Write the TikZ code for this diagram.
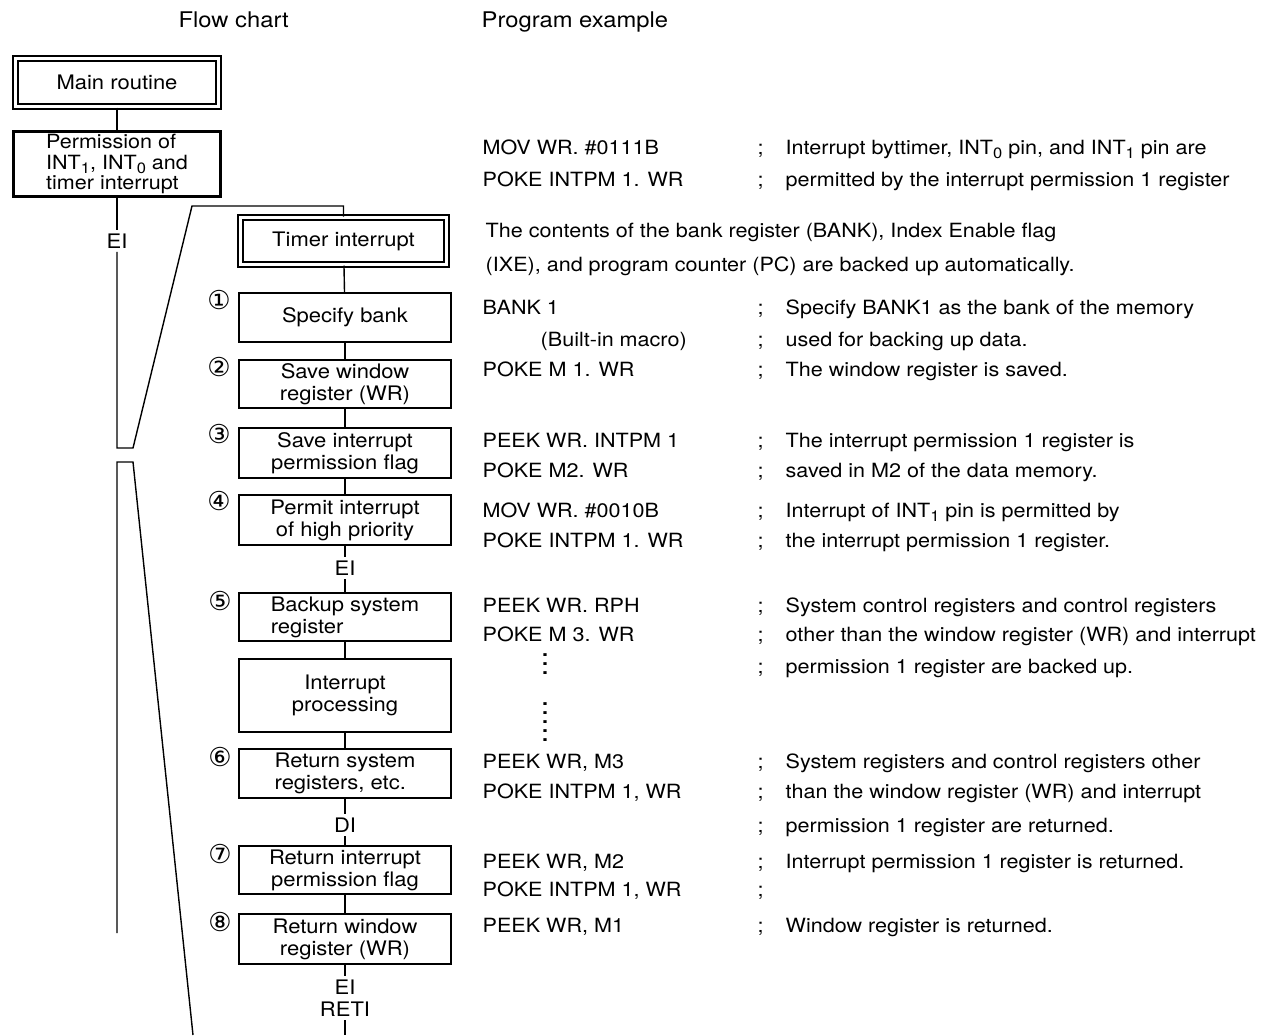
\documentclass[tikz,border=0pt]{standalone}
\usepackage{fontspec}
\setmainfont{TeX Gyre Heros}[FakeStretch=1.1]
\newfontfamily\circfont{DejaVu Sans}
\usetikzlibrary{positioning, calc}
\newcommand\subx[1]{\raisebox{-0.45ex}{\fontsize{7.5}{8}\selectfont #1}}
\newcommand\semi{;\hspace{11pt}}

\begin{document}
\begin{tikzpicture}[
    x=0.5pt, y=-0.5pt,
    line width=0.7pt,
    box/.style={draw, line width=1pt, minimum width=106pt, minimum height=24.5pt,
        inner sep=0pt, align=center, font=\fontsize{10}{11}\selectfont},
    dbox/.style={box, double, line width=1.1pt, double distance=1.4pt},
    flag/.style={inner sep=1.5pt, font=\fontsize{10}{11}\selectfont},
    num/.style={inner sep=0pt, font=\circfont\fontsize{13}{14}\selectfont},
    code/.style={anchor=base west, inner sep=0pt, font=\fontsize{9.8}{11}\selectfont},
    dots/.style={inner sep=0pt, align=center, font=\bfseries\fontsize{9.8}{4.6}\selectfont},
    title/.style={anchor=base west, inner sep=0pt, font=\fontsize{10.8}{12}\selectfont}
]
    \useasboundingbox (0,0) rectangle (1268,1035);

    % Headings
    \node[title] (hflow) at (178,27) {Flow chart};
    \node[title] (hprog) at (481,27) {Program example};

    % Main routine
    \node[dbox, minimum width=101.4pt, minimum height=23.9pt] (main) at (117,82.5) {Main routine};
    \node[box, line width=1.5pt, minimum width=103.5pt, minimum height=32.5pt, align=left,
        font=\fontsize{9.8}{10.2}\selectfont] (perm) at (117,164)
        {Permission of\\INT\subx{1}, INT\subx{0} and\\timer interrupt};
    \node[flag] (ei0) at (117,241) {EI};

    % Break of the main line
    \coordinate (brkA) at (117,448);
    \coordinate (brkB) at (133,448);
    \coordinate (brkC) at (192,206);
    \coordinate (brkD) at (117,462);
    \coordinate (brkE) at (133,462);
    \coordinate (brkF) at (193,1035);
    \coordinate (brkG) at (117,933);

    % Timer interrupt routine
    \node[dbox, minimum width=102.9pt, minimum height=23.4pt] (timer) at (343.5,241) {Timer interrupt};
    \node[box] (bank) at (345,317.5) {Specify bank};
    \node[box, minimum height=24pt] (savewr) at (345,384) {Save window\\register (WR)};
    \node[box, minimum height=25pt] (saveflag) at (345,453) {Save interrupt\\permission flag};
    \node[box, minimum height=25pt] (permit) at (345,520) {Permit interrupt\\of high priority};
    \node[flag] (ei1) at (345,568) {EI};
    \node[box, minimum height=24pt, align=left] (backup) at (345,617) {Backup system\\register};
    \node[box, minimum height=36.5pt] (process) at (345,695.5) {Interrupt\\processing};
    \node[box, align=left] (retsys) at (345,773.5) {Return system\\registers, etc.};
    \node[flag] (di) at (345,825) {DI};
    \node[box, minimum height=24pt] (retflag) at (345,870) {Return interrupt\\permission flag};
    \node[box, minimum height=25pt] (retwr) at (345,939) {Return window\\register (WR)};
    \node[flag] (ei2) at (345,987) {EI};
    \node[flag] (reti) at (345,1009) {RETI};
    \coordinate (endR) at (345,1035);

    % Step numbers
    \node[num] (s1) at ([xshift=-9.5pt,yshift=-4pt]bank.north west) {①};
    \node[num] (s2) at ([xshift=-9.5pt,yshift=-4pt]savewr.north west) {②};
    \node[num] (s3) at ([xshift=-9.5pt,yshift=-3.5pt]saveflag.north west) {③};
    \node[num] (s4) at ([xshift=-9.5pt,yshift=-3.5pt]permit.north west) {④};
    \node[num] (s5) at ([xshift=-9pt,yshift=-4.5pt]backup.north west) {⑤};
    \node[num] (s6) at ([xshift=-9pt,yshift=-4.5pt]retsys.north west) {⑥};
    \node[num] (s7) at ([xshift=-9pt,yshift=-4.5pt]retflag.north west) {⑦};
    \node[num] (s8) at ([xshift=-9pt,yshift=-4.5pt]retwr.north west) {⑧};

    % Connectors
    \draw (main) -- (perm);
    \draw (perm) -- (ei0);
    \draw (ei0) -- (brkA) -- (brkB) -- (brkC) -| (timer.north);
    \draw (brkG) -- (brkD) -- (brkE) -- (brkF);
    \draw (timer) -- (bank);
    \draw (bank) -- (savewr);
    \draw (savewr) -- (saveflag);
    \draw (saveflag) -- (permit);
    \draw (permit) -- (ei1);
    \draw (ei1) -- (backup);
    \draw (backup) -- (process);
    \draw (process) -- (retsys);
    \draw (retsys) -- (di);
    \draw (di) -- (retflag);
    \draw (retflag) -- (retwr);
    \draw (retwr) -- (ei2);
    \draw (reti) -- (endR);

    % Program example
    \node[code] (c1) at (482,154) {MOV WR. \#0111B};
    \node[code] (n1) at (757,154) {\semi Interrupt byttimer, INT\subx{0} pin, and INT\subx{1} pin are};
    \node[code] (c2) at (482,186) {POKE INTPM 1. WR};
    \node[code] (n2) at (757,186) {\semi permitted by the interrupt permission 1 register};
    \node[code] (t1) at (485,237) {The contents of the bank register (BANK), Index Enable flag};
    \node[code] (t2) at (485,271) {(IXE), and program counter (PC) are backed up automatically.};
    \node[code] (c3) at (482,314) {BANK 1};
    \node[code] (n3) at (757,314) {\semi Specify BANK1 as the bank of the memory};
    \node[code] (c4) at (540,346) {(Built-in macro)};
    \node[code] (n4) at (757,346) {\semi used for backing up data.};
    \node[code] (c5) at (482,376) {POKE M 1. WR};
    \node[code] (n5) at (757,376) {\semi The window register is saved.};
    \node[code] (c6) at (482,447) {PEEK WR. INTPM 1};
    \node[code] (n6) at (757,447) {\semi The interrupt permission 1 register is};
    \node[code] (c7) at (482,477) {POKE M2. WR};
    \node[code] (n7) at (757,477) {\semi saved in M2 of the data memory.};
    \node[code] (c8) at (482,517) {MOV WR. \#0010B};
    \node[code] (n8) at (757,517) {\semi Interrupt of INT\subx{1} pin is permitted by};
    \node[code] (c9) at (482,547) {POKE INTPM 1. WR};
    \node[code] (n9) at (757,547) {\semi the interrupt permission 1 register.};
    \node[code] (c10) at (482,612) {PEEK WR. RPH};
    \node[code] (n10) at (757,612) {\semi System control registers and control registers};
    \node[code] (c11) at (482,641) {POKE M 3. WR};
    \node[code] (n11) at (757,641) {\semi other than the window register (WR) and interrupt};
    \node[dots] (d1) at (545,664) {.\\.\\.};
    \node[code] (n12) at (757,673) {\semi permission 1 register are backed up.};
    \node[dots] (d2) at (545,722) {.\\.\\.\\.\\.};
    \node[code] (c12) at (482,768) {PEEK WR, M3};
    \node[code] (n13) at (757,768) {\semi System registers and control registers other};
    \node[code] (c13) at (482,798) {POKE INTPM 1, WR};
    \node[code] (n14) at (757,798) {\semi than the window register (WR) and interrupt};
    \node[code] (n15) at (757,832) {\semi permission 1 register are returned.};
    \node[code] (c14) at (482,868) {PEEK WR, M2};
    \node[code] (n16) at (757,868) {\semi Interrupt permission 1 register is returned.};
    \node[code] (c15) at (482,896) {POKE INTPM 1, WR};
    \node[code] (n17) at (757,896) {;};
    \node[code] (c16) at (482,932) {PEEK WR, M1};
    \node[code] (n18) at (757,932) {\semi Window register is returned.};
\end{tikzpicture}
\end{document}
